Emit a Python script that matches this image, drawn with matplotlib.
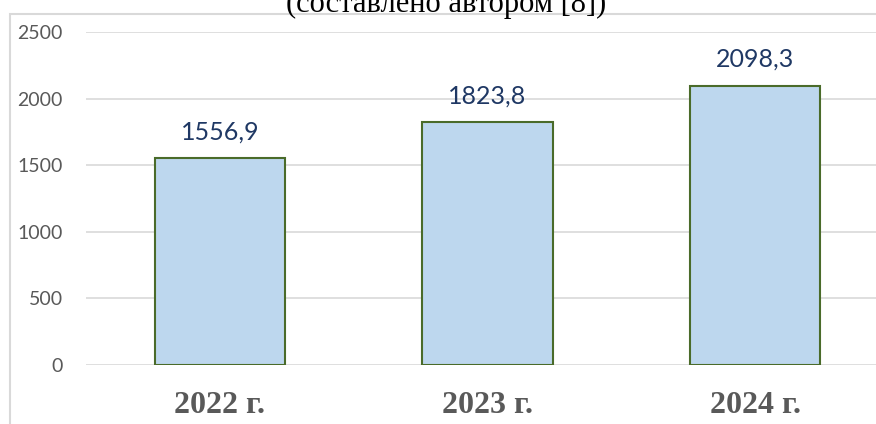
import matplotlib
matplotlib.use("Agg")
import matplotlib.pyplot as plt
from matplotlib.patches import Rectangle

categories = ["2022 г.", "2023 г.", "2024 г."]
values = [1556.9, 1823.8, 2098.3]
value_labels = ["1556,9", "1823,8", "2098,3"]
yticks = [0, 500, 1000, 1500, 2000, 2500]
title_text = "(составлено автором [8])"

W, H = 876, 424
fig = plt.figure(figsize=(W / 100, H / 100), dpi=100)

def px(x0, y0, x1, y1):
    return [x0 / W, 1 - y1 / H, (x1 - x0) / W, (y1 - y0) / H]

# chart border
fig.patches.append(Rectangle((10 / W, -0.1), 1.2, 1 - 14 / H + 0.1,
                             transform=fig.transFigure, fill=False,
                             edgecolor="#D9D9D9", linewidth=1.5))

# clipped title above chart
fig.text(446 / W, 1 - 12 / H, title_text, ha="center", va="baseline",
         fontsize=22, family="Liberation Serif", color="black")

ax = fig.add_axes(px(86.25, 32, 888.75, 365))
x = list(range(len(categories)))
ax.bar(x, values, width=0.487, color="#BDD7EE", edgecolor="#4A6B2A",
       linewidth=1.5, zorder=3)
ax.set_xlim(-0.5, 2.5)
ax.set_ylim(0, 2500)
ax.set_yticks(yticks)
ax.set_yticklabels([str(t) for t in yticks], fontsize=14, family="Lato",
                   color="#595959")
ax.tick_params(axis="y", length=0, pad=17)
ax.set_xticks(x)
ax.set_xticklabels(categories, fontsize=23, family="Liberation Serif",
                   fontweight="bold", color="#595959")
ax.tick_params(axis="x", length=0, pad=19)
ax.grid(axis="y", color="#D9D9D9", linewidth=1.2, zorder=0)
for s in ax.spines.values():
    s.set_visible(False)

for xi, v, lab in zip(x, values, value_labels):
    ax.annotate(lab, (xi, v), xytext=(0, 13.3), textcoords="offset points",
                ha="center", va="baseline", fontsize=18, family="Lato",
                color="#1F3864")

fig.savefig("out.png", dpi=100)
